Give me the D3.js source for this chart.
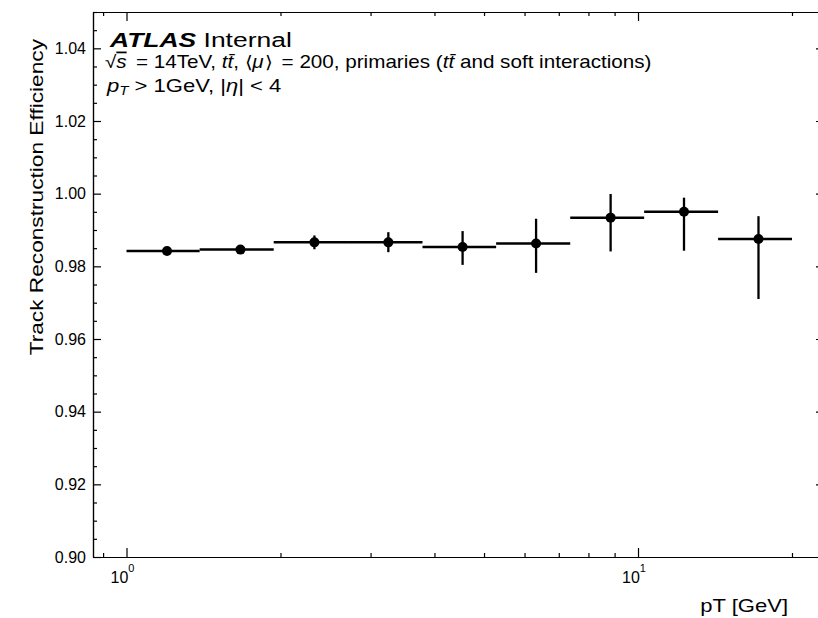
<!DOCTYPE html>
<html>
<meta charset="utf-8">
<style>
body {
margin: 0;
background: #fff;
}
text {
font-family: "Liberation Sans", Arial, sans-serif;
fill: #000;
}
.tick text {
font-size: 16px;
}
.axis path, .axis line {
stroke: #000;
stroke-width: 1.2px;
}
.bin {
stroke: #000;
stroke-width: 2.5px;
}
.err {
stroke: #000;
stroke-width: 2.3px;
}
.it {
font-style: italic;
}
</style>
<body>
<script src="https://d3js.org/d3.v7.min.js"></script>
<script>

// pT bins [GeV]
var binLow    = [1.0, 1.39, 1.94, 2.71, 3.79, 5.28, 7.37, 10.28, 14.34];
var binHigh   = [1.39, 1.94, 2.71, 3.79, 5.28, 7.37, 10.28, 14.34, 20.0];
var binCenter = [1.2, 1.67, 2.33, 3.25, 4.54, 6.32, 8.84, 12.3, 17.2];

// efficiency and asymmetric errors
var efficiency = [0.9842, 0.9846, 0.9866, 0.9866, 0.9853, 0.9863, 0.9934, 0.9950, 0.9875];
var errUp      = [0.0005, 0.0005, 0.0019, 0.0028, 0.0044, 0.0068, 0.0065, 0.0039, 0.0063];
var errDown    = [0.0005, 0.0005, 0.0019, 0.0027, 0.0049, 0.0081, 0.0093, 0.0107, 0.0165];

var yMajor = [0.90, 0.92, 0.94, 0.96, 0.98, 1.00, 1.02, 1.04];
var yLabels = ["0.90", "0.92", "0.94", "0.96", "0.98", "1.00", "1.02", "1.04"];
var xMajor = [1, 10];
var xMajorExp = ["0", "1"];
var xMinor = [0.9, 2, 3, 4, 5, 6, 7, 8, 9, 20];

var mLeft = 93, mRight = 824, mTop = 12, mBottom = 557;
var stretch = 1.26;   // text in the reference is wide

var svg = d3.select("body").append("svg")
    .attr("width", 818)
    .attr("height", 618);

var x = d3.scaleLog().domain([0.86, 23.1]).range([mLeft, mRight]);
var y = d3.scaleLinear().domain([0.90, 1.05]).range([mBottom, mTop]);

var yMinor = d3.range(0.905, 1.05, 0.005).filter(function(v) {
    return Math.abs(Math.round(v / 0.02) * 0.02 - v) > 1e-6;
});

// frame: left / right axes
function yAxes(axisFn, pos, major) {
    var size = major ? -8 : -4;
    var vals = major ? yMajor : yMinor;
    svg.append("g").attr("class", "axis")
        .attr("transform", "translate(" + pos + ",0)")
        .call(axisFn(y).tickValues(vals).tickSizeInner(size).tickSizeOuter(0).tickPadding(7)
            .tickFormat(function(d, i) { return (major && axisFn === d3.axisLeft) ? yLabels[i] : ""; }));
}
yAxes(d3.axisLeft, mLeft, true);
yAxes(d3.axisLeft, mLeft, false);
yAxes(d3.axisRight, mRight, true);
yAxes(d3.axisRight, mRight, false);

function xAxes(axisFn, pos, major) {
    var size = major ? -9 : -4;
    svg.append("g").attr("class", "axis")
        .attr("transform", "translate(0," + pos + ")")
        .call(axisFn(x).tickValues(major ? xMajor : xMinor).tickSizeInner(size).tickSizeOuter(0)
            .tickFormat(function() { return ""; }));
}
xAxes(d3.axisBottom, mBottom, true);
xAxes(d3.axisBottom, mBottom, false);
xAxes(d3.axisTop, mTop, true);
xAxes(d3.axisTop, mTop, false);

// 10^n labels
var xl = svg.append("g").selectAll("text")
    .data(xMajor)
    .enter()
    .append("text")
    .attr("x", function(d) { return x(d) - 4; })
    .attr("y", 583)
    .attr("text-anchor", "middle")
    .style("font-size", "16px");
xl.append("tspan").text("10");
xl.append("tspan")
    .attr("dy", -11)
    .style("font-size", "11px")
    .text(function(d, i) { return xMajorExp[i]; });

// axis titles
svg.append("text")
    .attr("transform", "translate(43,39) rotate(-90) scale(" + stretch + ",1)")
    .attr("text-anchor", "end")
    .style("font-size", "18px")
    .text("Track Reconstruction Efficiency");

svg.append("text")
    .attr("transform", "translate(788,612) scale(" + stretch + ",1)")
    .attr("text-anchor", "end")
    .style("font-size", "17.5px")
    .text("pT [GeV]");

// ATLAS label
var atl = svg.append("text")
    .attr("transform", "translate(110,47) scale(" + stretch + ",1)")
    .style("font-size", "21px");
atl.append("tspan").style("font-weight", "bold").style("font-style", "italic").text("ATLAS");
atl.append("tspan").text(" Internal");

var l2 = svg.append("text")
    .attr("transform", "translate(105,68) scale(1.18,1)")
    .style("font-size", "17.5px");
l2.append("tspan").text("\u221A");
l2.append("tspan").attr("class", "it").style("text-decoration", "overline").text("s");
l2.append("tspan").attr("dx", 3).text(" = 14TeV, ");
l2.append("tspan").attr("class", "it").text("t\u0074\u0304");
l2.append("tspan").text(", \u27E8");
l2.append("tspan").attr("class", "it").text("\u03BC");
l2.append("tspan").attr("dx", 1).text("\u27E9");
l2.append("tspan").attr("dx", 3).text(" = 200, primaries (");
l2.append("tspan").attr("class", "it").text("t\u0074\u0304");
l2.append("tspan").text(" and soft interactions)");

var l3 = svg.append("text")
    .attr("transform", "translate(107,92) scale(" + stretch + ",1)")
    .style("font-size", "17.5px");
l3.append("tspan").attr("class", "it").text("p");
l3.append("tspan").attr("class", "it").attr("dy", 3).style("font-size", "12px").text("T");
l3.append("tspan").attr("dy", -3).text(" > 1GeV, |");
l3.append("tspan").attr("class", "it").text("\u03B7");
l3.append("tspan").text("| < 4");

// data
var rows = efficiency.map(function(e, i) {
    return {lo: binLow[i], hi: binHigh[i], c: binCenter[i], e: e, up: errUp[i], dn: errDown[i]};
});

var pts = svg.append("g").attr("class", "points");

pts.selectAll(".bin")
    .data(rows)
    .enter()
    .append("line")
    .attr("class", "bin")
    .attr("x1", function(d) { return x(d.lo); })
    .attr("x2", function(d) { return x(d.hi); })
    .attr("y1", function(d) { return y(d.e); })
    .attr("y2", function(d) { return y(d.e); });

pts.selectAll(".err")
    .data(rows)
    .enter()
    .append("line")
    .attr("class", "err")
    .attr("x1", function(d) { return x(d.c); })
    .attr("x2", function(d) { return x(d.c); })
    .attr("y1", function(d) { return y(d.e + d.up); })
    .attr("y2", function(d) { return y(d.e - d.dn); });

pts.selectAll("circle")
    .data(rows)
    .enter()
    .append("circle")
    .attr("cx", function(d) { return x(d.c); })
    .attr("cy", function(d) { return y(d.e); })
    .attr("r", 5)
    .attr("fill", "#000");

</script>
</body>
</html>
